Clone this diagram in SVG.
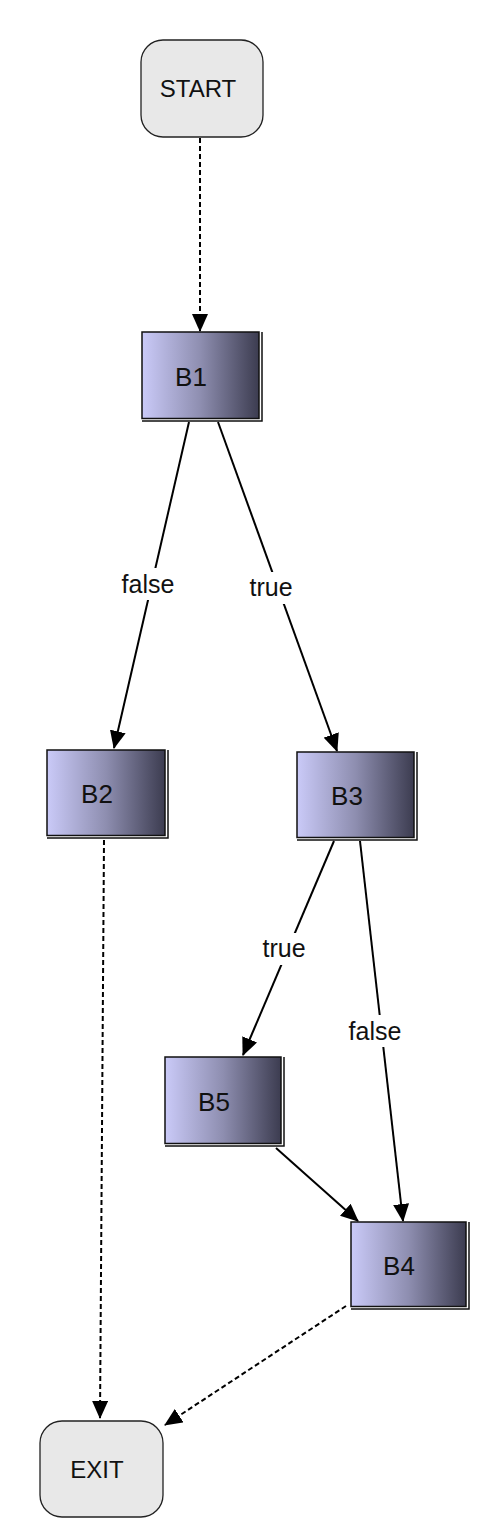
<svg xmlns="http://www.w3.org/2000/svg" width="479" height="1529" viewBox="0 0 479 1529">
<style>
.term{fill:#e8e8e8;stroke:#222;stroke-width:1.3}
.blk{fill:url(#g);stroke:#111;stroke-width:1.5}
.frame{fill:none;stroke:#111;stroke-width:1.5}
.t{font-family:"Liberation Sans",Arial,sans-serif;fill:#111;text-anchor:middle}
.nl{font-size:26px}
.tl{font-size:24px}
.el{font-size:25px}
.e{fill:none;stroke:#000;stroke-width:2}
.d{stroke-dasharray:5 3}
.lb{fill:#fff}
</style>
<defs>
<linearGradient id="g" x1="0" y1="0" x2="1" y2="0">
<stop offset="0" stop-color="#cacaf8"/>
<stop offset="0.5" stop-color="#8e8eb0"/>
<stop offset="1" stop-color="#3c3c50"/>
</linearGradient>
<marker id="a" markerUnits="userSpaceOnUse" markerWidth="18" markerHeight="16" refX="17" refY="8" orient="auto">
<path d="M0,0 L18,8 L0,16 z" fill="#000"/>
</marker>
</defs>
<g id="connectors">
<line class="e d" x1="200" y1="138" x2="200" y2="331" marker-end="url(#a)"/>
<line class="e" x1="189" y1="422" x2="114" y2="748" marker-end="url(#a)"/>
<line class="e" x1="218" y1="422" x2="337" y2="751" marker-end="url(#a)"/>
<line class="e d" x1="104" y1="840" x2="100" y2="1418" marker-end="url(#a)"/>
<line class="e" x1="334" y1="841" x2="243" y2="1055" marker-end="url(#a)"/>
<line class="e" x1="360" y1="841" x2="403" y2="1221" marker-end="url(#a)"/>
<line class="e" x1="276" y1="1148" x2="358" y2="1221" marker-end="url(#a)"/>
<line class="e d" x1="346" y1="1306" x2="165" y2="1425" marker-end="url(#a)"/>
<rect class="lb" x="120" y="568" width="56" height="32"/>
<text class="t el" x="148" y="593">false</text>
<rect class="lb" x="247" y="572" width="48" height="32"/>
<text class="t el" x="271" y="596">true</text>
<rect class="lb" x="260" y="933" width="48" height="32"/>
<text class="t el" x="284" y="957">true</text>
<rect class="lb" x="347" y="1015" width="56" height="32"/>
<text class="t el" x="375" y="1040">false</text>
</g>
<g id="START">
<rect class="term" x="141" y="40" width="122" height="97" rx="22"/>
<text class="t tl" x="198" y="97">START</text>
</g>
<g id="B1">
<path class="frame" d="M142,421 H262 V332"/>
<rect class="blk" x="142" y="332" width="117" height="86.5"/>
<text class="t nl" x="191" y="386">B1</text>
</g>
<g id="B2">
<path class="frame" d="M47,838 H168 V750"/>
<rect class="blk" x="47" y="750" width="118" height="85.5"/>
<text class="t nl" x="97" y="803">B2</text>
</g>
<g id="B3">
<path class="frame" d="M297,840 H417 V752"/>
<rect class="blk" x="297" y="752" width="117" height="85.5"/>
<text class="t nl" x="347" y="805">B3</text>
</g>
<g id="B5">
<path class="frame" d="M165,1146 H284 V1057"/>
<rect class="blk" x="165" y="1057" width="116" height="86.5"/>
<text class="t nl" x="214" y="1111">B5</text>
</g>
<g id="B4">
<path class="frame" d="M351,1309 H469 V1222"/>
<rect class="blk" x="351" y="1222" width="115" height="84.5"/>
<text class="t nl" x="399" y="1275">B4</text>
</g>
<g id="EXIT">
<rect class="term" x="40" y="1421" width="123" height="96" rx="22"/>
<text class="t tl" x="97" y="1478">EXIT</text>
</g>
</svg>
